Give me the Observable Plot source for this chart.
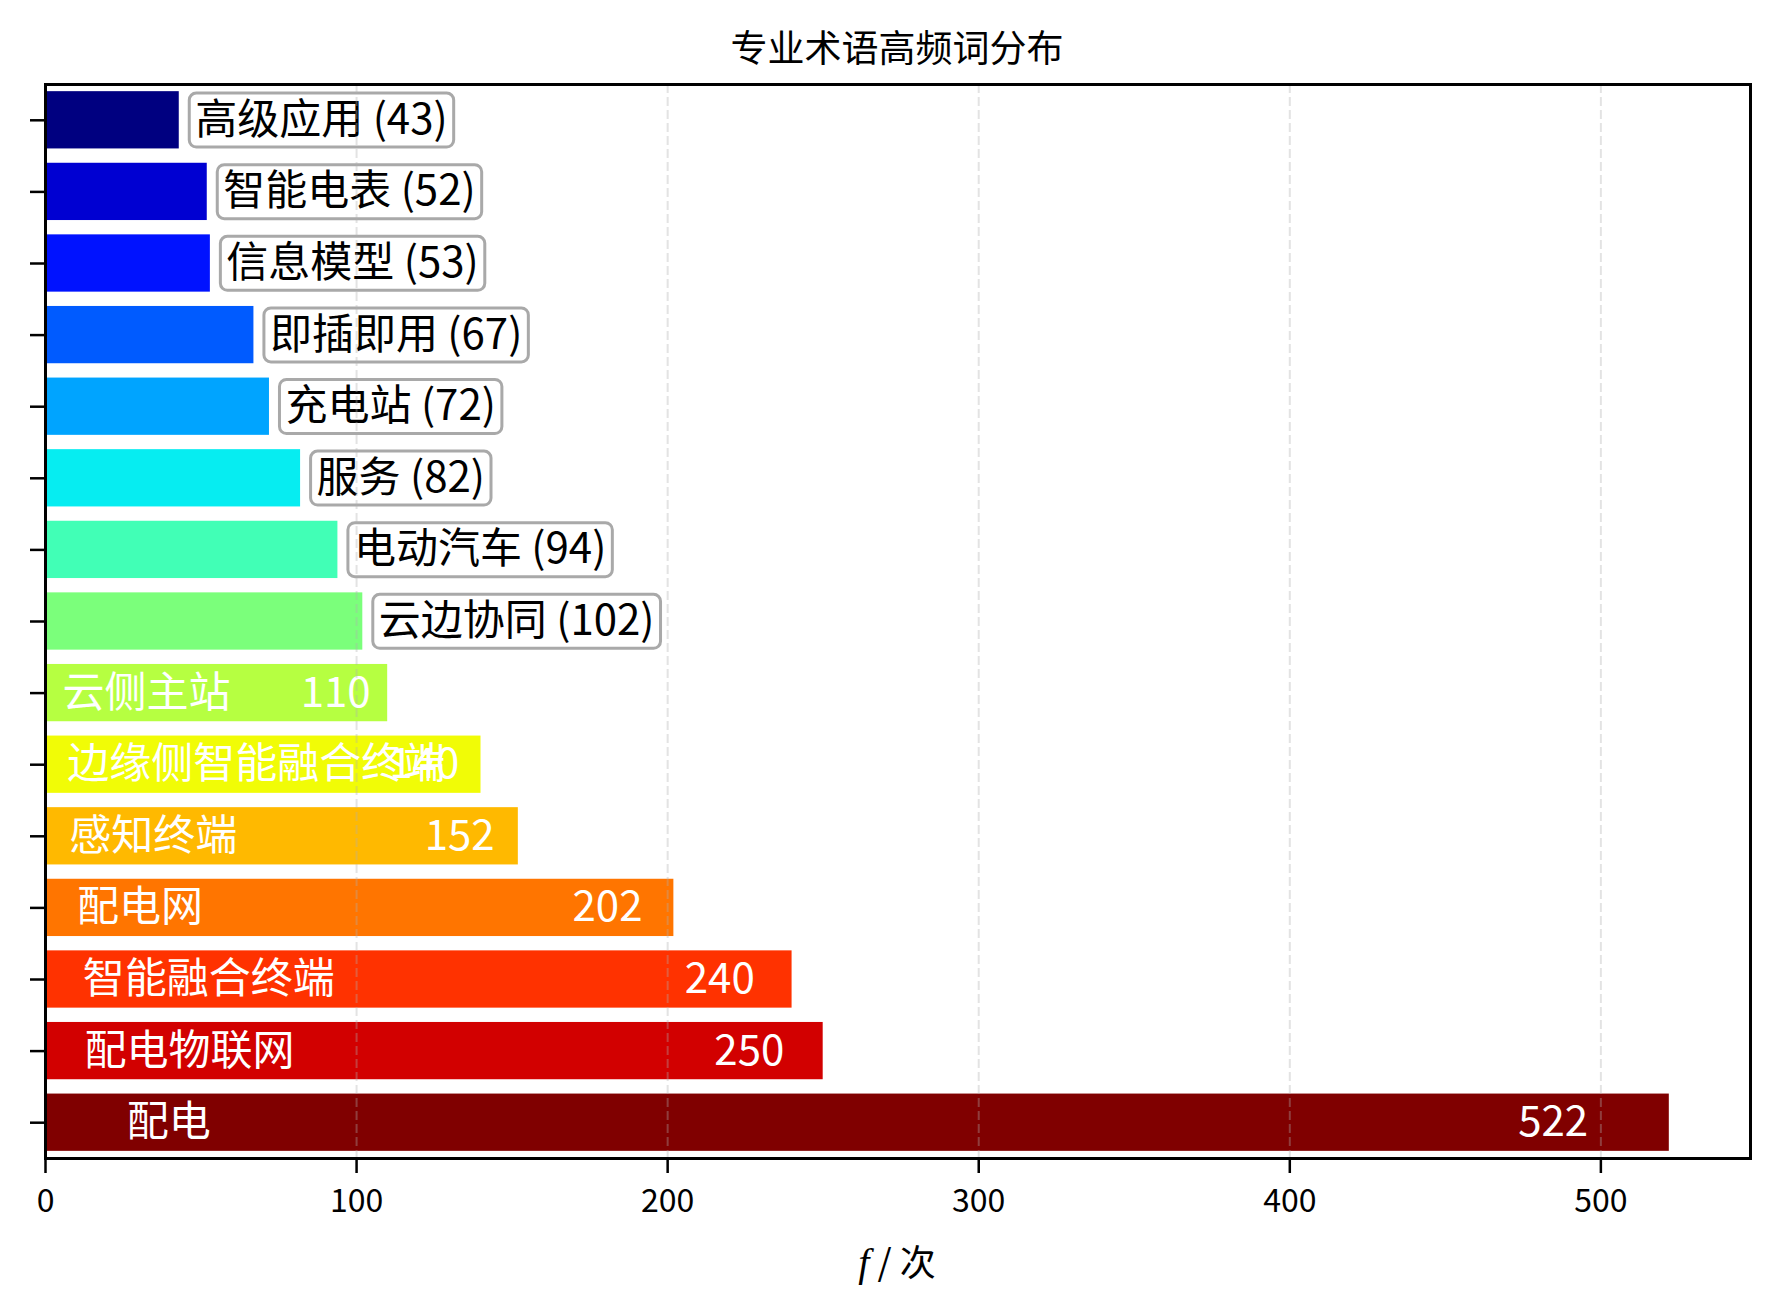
<!DOCTYPE html>
<html>
<head>
<meta charset="utf-8">
<script src="https://cdn.jsdelivr.net/npm/d3@7"></script>
<script src="https://cdn.jsdelivr.net/npm/@observablehq/plot@0.6"></script>
<style>
  html, body { margin: 0; padding: 0; background: #fff; }
  #title {
    width: 1779px; height: 70px; line-height: 70px; box-sizing: border-box;
    padding-left: 15px; text-align: center; position: relative; top: 11px;
    font-family: "Noto Sans CJK SC", sans-serif; font-size: 37px; color: #000;
  }
  #xlabel {
    width: 1779px; height: 70px; line-height: 70px; box-sizing: border-box;
    padding-left: 15px; text-align: center;
    font-family: "Noto Sans CJK SC", sans-serif; font-size: 36px; color: #000;
  }
  #xlabel .f { font-family: "Liberation Serif", "DejaVu Serif", serif; font-style: italic; font-size: 40px; }
  svg { display: block; }
</style>
</head>
<body>
<div id="title">专业术语高频词分布</div>
<div id="chart"></div>
<div id="xlabel"><span class="f">f</span> / 次</div>
<script>
// ---- data (top row first) ----
const names = ["高级应用","智能电表","信息模型","即插即用","充电站","服务","电动汽车","云边协同",
               "云侧主站","边缘侧智能融合终端","感知终端","配电网","智能融合终端","配电物联网","配电"];
const counts = [43, 52, 53, 67, 72, 82, 94, 102, 110, 140, 152, 202, 240, 250, 522];
const colors = ["#000080","#0000d2","#0012ff","#005bff","#00a4ff","#06edf1","#41ffb6","#7bff7b",
                "#b6ff41","#f1fc06","#ffb900","#ff7500","#ff3200","#d20000","#800000"];
const xTicks = [0, 100, 200, 300, 400, 500];
const gridTicks = [100, 200, 300, 400, 500];
const xMax = 548.1;

const data = names.map((name, i) => ({name, value: counts[i]}));
const maxVal = d3.max(counts);
const inside = data.filter(d => d.value >= 0.2 * maxVal);
const outside = data.filter(d => d.value < 0.2 * maxVal);

const FS = 42;

const chart = Plot.plot({
  width: 1779,
  height: 1155,
  marginLeft: 45,
  marginRight: 29,
  marginTop: 14,
  marginBottom: 67,
  style: {fontFamily: "Noto Sans CJK SC, sans-serif", background: "white", color: "black"},
  x: {domain: [0, xMax]},
  y: {domain: names, paddingInner: 0.2, paddingOuter: 0.1, round: false},
  color: {domain: names, range: colors},
  marks: [
    Plot.barX(data, {y: "name", x: "value", fill: "name"}),
    Plot.text(outside, {
      x: "value", y: "name", dx: 16,
      text: d => `${d.name} (${d.value})`,
      textAnchor: "start", fontSize: FS, fill: "black",
      ariaLabel: () => "outer-label"
    }),
    Plot.text(inside, {
      x: d => d.value * 0.05, y: "name", text: "name",
      textAnchor: "start", fontSize: FS, fill: "white"
    }),
    Plot.text(inside, {
      x: d => d.value * 0.95, y: "name", text: d => String(d.value),
      textAnchor: "end", fontSize: FS, fill: "white"
    }),
    Plot.gridX({ticks: gridTicks, stroke: "#b0b0b0", strokeOpacity: 0.35, strokeWidth: 2, strokeDasharray: "9,4"}),
    Plot.frame({stroke: "black", strokeWidth: 3}),
    Plot.axisX({ticks: xTicks, tickSize: 15, tickPadding: 16, fontSize: 32, strokeWidth: 2.5, label: null}),
    Plot.axisY({tickSize: 15, strokeWidth: 2.5, stroke: "black", tickFormat: () => "", fill: "none", label: null})
  ]
});

document.getElementById("chart").appendChild(chart);

// label boxes behind the outside labels
const NS = "http://www.w3.org/2000/svg";
const outerSet = new Set(outside.map(d => `${d.name} (${d.value})`));
chart.querySelectorAll("text").forEach(t => {
  if (!outerSet.has(t.textContent)) return;
  const bb = t.getBBox();
  const cy = bb.y + bb.height / 2 + 0.116 * FS;
  const r = document.createElementNS(NS, "rect");
  r.setAttribute("x", bb.x - 6);
  r.setAttribute("width", bb.width + 12);
  r.setAttribute("y", cy - 27);
  r.setAttribute("height", 54);
  r.setAttribute("rx", 7);
  r.setAttribute("fill", "white");
  r.setAttribute("stroke", "#a9a9a9");
  r.setAttribute("stroke-width", 3);
  const tr = t.getAttribute("transform");
  if (tr) r.setAttribute("transform", tr);
  t.parentNode.insertBefore(r, t);
});
</script>
</body>
</html>
